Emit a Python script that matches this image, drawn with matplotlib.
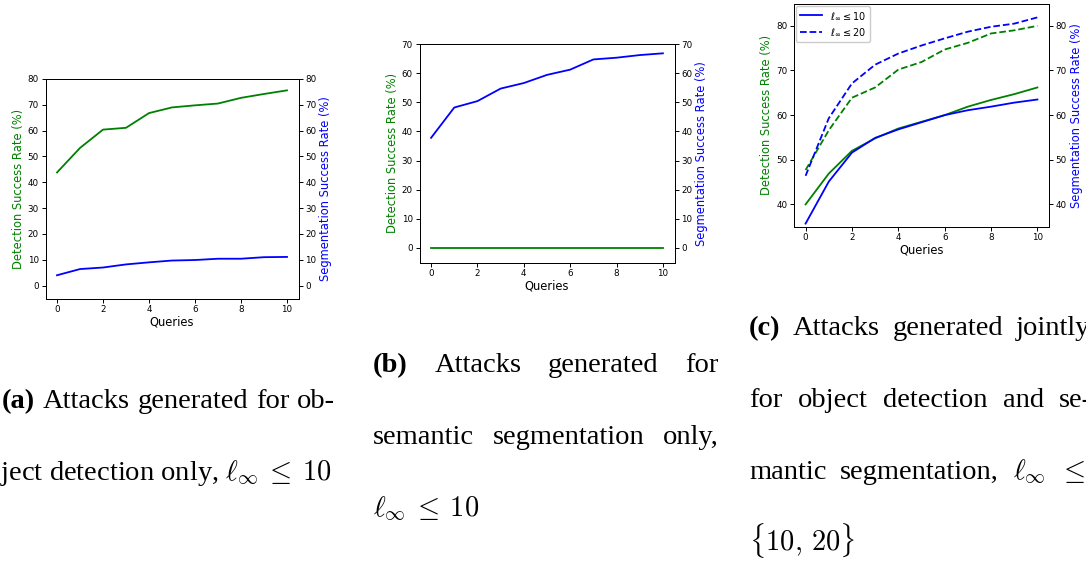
import matplotlib
matplotlib.use('Agg')
import matplotlib.pyplot as plt

W, H = 1086, 562
TICK_FS = 6.3
LABEL_FS = 8.3
CAP_FS = 20.5
LW = 1.3

queries = [0, 1, 2, 3, 4, 5, 6, 7, 8, 9, 10]

# (a) attacks for object detection only
det_a = [43.8, 53.3, 60.4, 61.1, 66.8, 69.0, 69.8, 70.5, 72.7, 74.2, 75.6]
seg_a = [4.0, 6.4, 7.0, 8.2, 9.0, 9.7, 9.9, 10.4, 10.4, 11.0, 11.1]

# (b) attacks for semantic segmentation only
det_b = [0, 0, 0, 0, 0, 0, 0, 0, 0, 0, 0]
seg_b = [37.8, 48.2, 50.4, 54.7, 56.6, 59.4, 61.2, 64.7, 65.3, 66.2, 66.8]

# (c) joint attacks, l_inf <= 10 and <= 20
det_c10 = [40.0, 46.9, 52.0, 54.8, 57.0, 58.5, 60.0, 61.9, 63.4, 64.7, 66.2]
det_c20 = [47.7, 56.6, 63.9, 66.2, 70.2, 71.9, 74.7, 76.2, 78.3, 79.0, 80.0]
seg_c10 = [35.7, 45.1, 51.6, 54.9, 56.8, 58.4, 60.0, 61.1, 61.9, 62.8, 63.5]
seg_c20 = [46.4, 59.3, 67.1, 71.3, 73.8, 75.6, 77.2, 78.7, 79.8, 80.5, 81.9]


def px_axes(fig, x0, y0, x1, y1):
    return fig.add_axes([x0 / W, 1 - y1 / H, (x1 - x0) / W, (y1 - y0) / H])


def style(ax, ax2, ylim):
    for a in (ax, ax2):
        a.set_ylim(*ylim)
        a.tick_params(labelsize=TICK_FS, length=2.8, width=0.7, pad=2)
        for s in a.spines.values():
            s.set_linewidth(0.7)
    ax.set_xlim(-0.5, 10.5)
    ax.set_xticks([0, 2, 4, 6, 8, 10])
    ax.set_xlabel('Queries', fontsize=LABEL_FS, labelpad=1)
    ax.set_ylabel('Detection Success Rate (%)', color='green', fontsize=LABEL_FS, labelpad=2)
    ax2.set_ylabel('Segmentation Success Rate (%)', color='blue', fontsize=LABEL_FS, labelpad=2)


fig = plt.figure(figsize=(W / 100, H / 100), dpi=100)

# panel a
ax = px_axes(fig, 45.5, 79, 298.5, 298.5)
ax2 = ax.twinx()
ax.plot(queries, det_a, color='green', lw=LW)
ax2.plot(queries, seg_a, color='blue', lw=LW)
style(ax, ax2, (-5, 80))

# panel b
ax = px_axes(fig, 419.5, 44, 674.5, 262.5)
ax2 = ax.twinx()
ax.plot(queries, det_b, color='green', lw=LW)
ax2.plot(queries, seg_b, color='blue', lw=LW)
style(ax, ax2, (-5, 70))

# panel c
ax = px_axes(fig, 794, 4, 1049, 226.7)
ax2 = ax.twinx()
ax.plot(queries, det_c10, color='green', lw=LW)
ax.plot(queries, det_c20, color='green', lw=LW, ls='--')
l1, = ax2.plot(queries, seg_c10, color='blue', lw=LW)
l2, = ax2.plot(queries, seg_c20, color='blue', lw=LW, ls='--')
style(ax, ax2, (35, 84.9))
ax2.legend([l1, l2], [r'$\ell_\infty \leq 10$', r'$\ell_\infty \leq 20$'],
           loc='upper left', fontsize=7.0, borderaxespad=0.2,
           handlelength=2.3, framealpha=1)

# captions
renderer = fig.canvas.get_renderer()


def caption_line(words, x0, y, x1=None):
    items = []
    for w in words:
        bold = len(w) == 3 and w[0] == '(' and w[2] == ')'
        t = fig.text(0, 1 - y / H, w, fontfamily='Liberation Serif', fontsize=CAP_FS,
                     fontweight='bold' if bold else 'normal', math_fontfamily='cm',
                     ha='left', va='baseline')
        items.append(t)
    widths = [t.get_window_extent(renderer).width for t in items]
    gap = 0 if x1 is None or len(words) < 2 else (x1 - x0 - sum(widths)) / (len(words) - 1)
    x = x0
    for t, w in zip(items, widths):
        t.set_x(x / W)
        x += w + gap


caption_line(['(a)', 'Attacks', 'generated', 'for', 'ob-'], 2, 408, 335)
caption_line([r'ject detection only, $\ell_\infty \:\leq\: 10$'], 0, 480)

caption_line(['(b)', 'Attacks', 'generated', 'for'], 373, 372, 719)
caption_line(['semantic', 'segmentation', 'only,'], 373, 444, 719)
caption_line([r'$\ell_\infty \:\leq\: 10$'], 373, 516)

caption_line(['(c)', 'Attacks', 'generated', 'jointly'], 749, 335, 1090)
caption_line(['for', 'object', 'detection', 'and', 'se-'], 749, 407, 1092)
caption_line(['mantic', 'segmentation,', r'$\ell_\infty$', r'$\leq$'], 749, 479, 1086)
caption_line([r'$\{10,\,20\}$'], 749, 551)

fig.savefig('out.png', dpi=100)
